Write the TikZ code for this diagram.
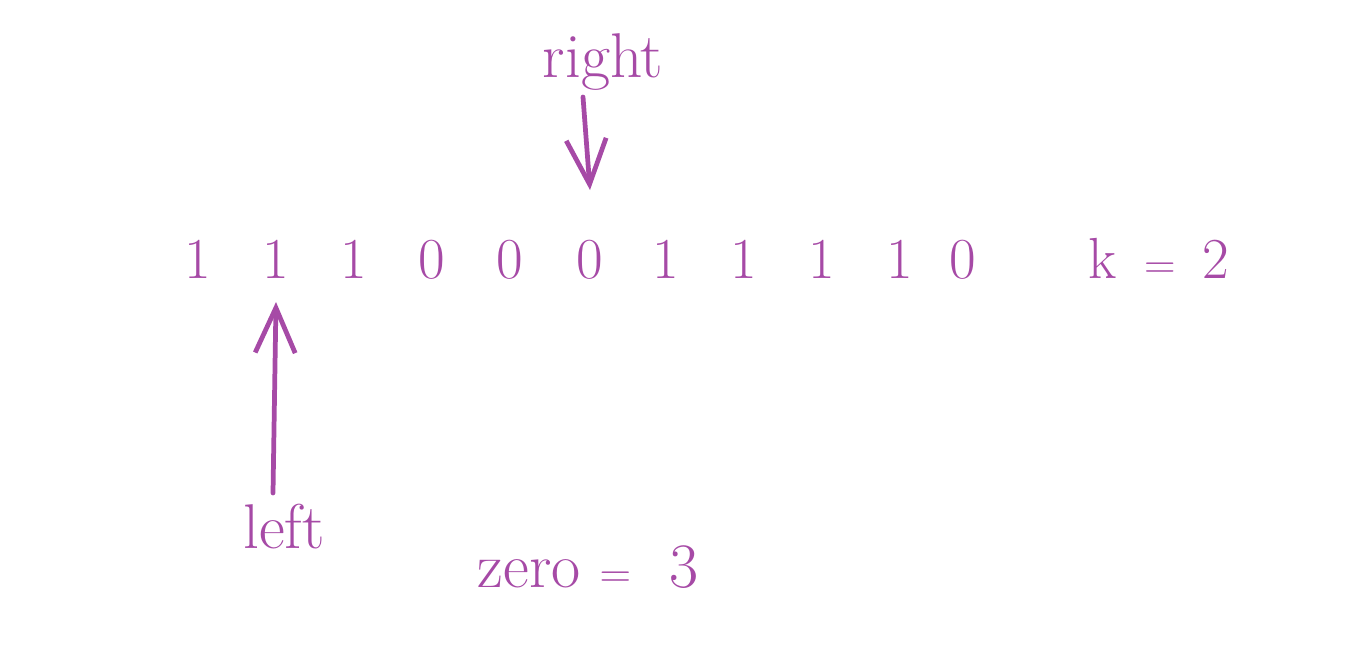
\documentclass[tikz,border=0pt]{standalone}
\usepackage{tikz}
\usetikzlibrary{arrows.meta, positioning, calc}
\definecolor{markpurple}{RGB}{166, 74, 166}
\tikzset{
    bitlabel/.style={text=markpurple, font=\fontsize{33}{38}\selectfont, anchor=base, inner sep=0pt},
    wordlabel/.style={text=markpurple, font=\fontsize{36}{42}\selectfont, anchor=base, inner sep=0pt},
    pointer/.style={-{Straight Barb[length=9mm, width=8mm]}, line width=2.7pt, draw=markpurple, line cap=round},
}

\begin{document}
\begin{tikzpicture}[x=0.02cm, y=-0.02cm]
    \useasboundingbox (0,0) rectangle (1348,666);

    % the bit row
    \foreach \bit/\xpos [count=\i] in {1/198, 1/276, 1/354, 0/432, 0/510, 0/590, 1/666, 1/744, 1/822, 1/900, 0/963}
        \node[bitlabel] (d\i) at (\xpos,278) {\bit};
    \node[bitlabel] (kval) at (1159,278) {k\, $=$\, 2};

    % labels
    \node[wordlabel] (rightlbl) at (603,77) {right};
    \node[wordlabel] (leftlbl) at (284,548) {left};
    \node[wordlabel] (zerolbl) at (588,587) {zero $=$\ \ 3};

    % pointers
    \coordinate (rtail) at (583,97);
    \coordinate (rtip) at (590,190);
    \coordinate (ltail) at (273,493);
    \coordinate (ltip) at (276,302);
    \draw[pointer] (rtail) -- (rtip);
    \draw[pointer] (ltail) -- (ltip);
\end{tikzpicture}
\end{document}
